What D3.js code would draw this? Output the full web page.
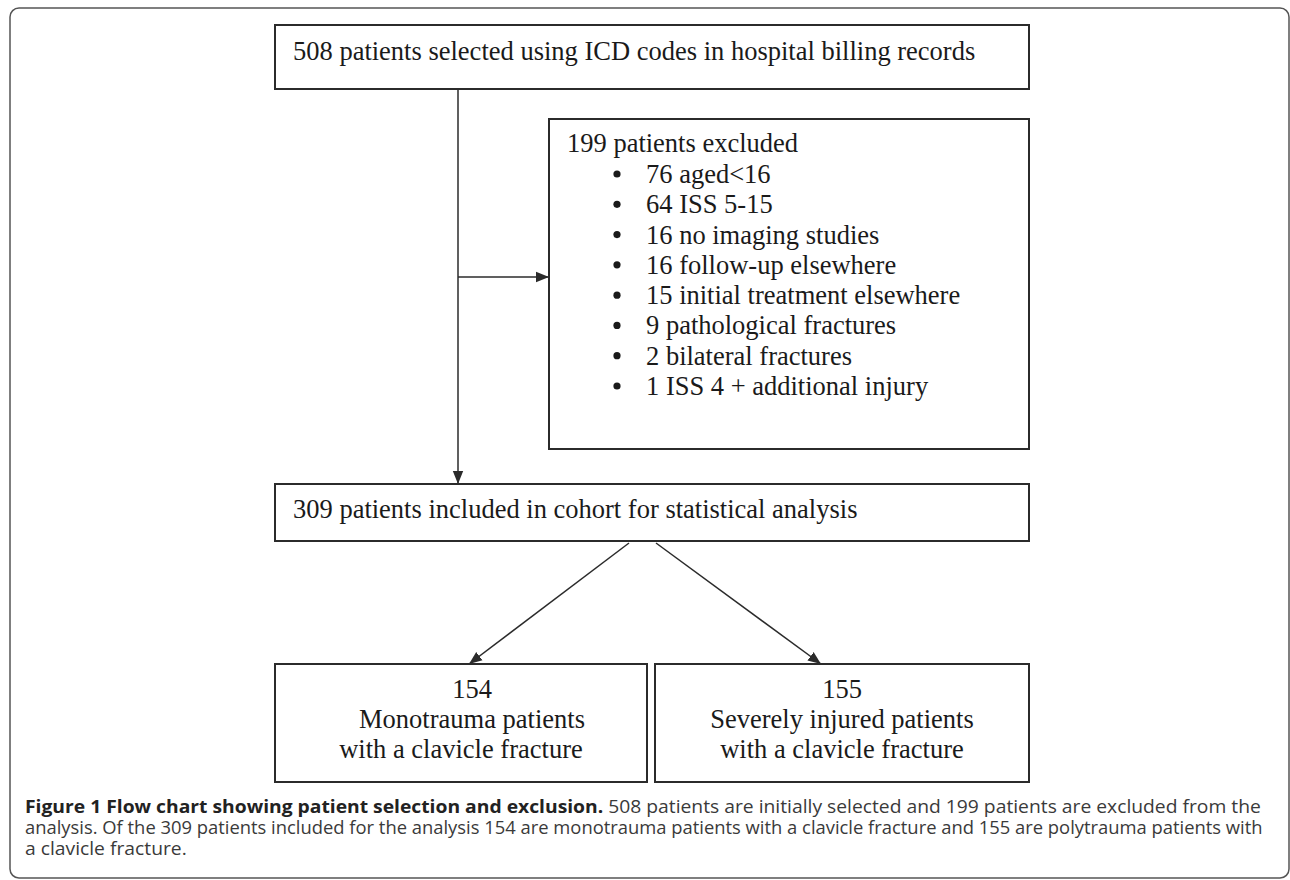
<!DOCTYPE html>
<html>
<head>
    <meta charset="UTF-8">
    <title>Flow chart</title>
    <script src="https://cdn.jsdelivr.net/npm/d3@7"></script>
    <style>
        body { margin: 0; background: #fff; }
    </style>
</head>
<body>
<script>

    var width = 1290,
        height = 880;

    // 流程圖的文字與人數
    var topLabel = "508 patients selected using ICD codes in hospital billing records";
    var excludedLabel = "199 patients excluded";
    var excludedCounts = [76, 64, 16, 16, 15, 9, 2, 1];
    var excludedReasons = ["aged<16", "ISS 5-15", "no imaging studies", "follow-up elsewhere",
        "initial treatment elsewhere", "pathological fractures", "bilateral fractures",
        "ISS 4 + additional injury"];
    var includedLabel = "309 patients included in cohort for statistical analysis";
    var groupCounts = [154, 155];
    var groupLines = [["Monotrauma patients", "with a clavicle fracture"],
        ["Severely injured patients", "with a clavicle fracture"]];
    var captionBold = "Figure 1 Flow chart showing patient selection and exclusion.";
    var captionLines = [
        " 508 patients are initially selected and 199 patients are excluded from the",
        "analysis. Of the 309 patients included for the analysis 154 are monotrauma patients with a clavicle fracture and 155 are polytrauma patients with",
        "a clavicle fracture."
    ];
    // 圖說每行在原圖的右端（最後一行自然寬度）
    var captionRight = [1262, 1263, null];

    var serif = "'Liberation Serif', 'Times New Roman', serif";
    var ink = "#2b2b2b";

    var svg = d3.select("body").append("svg")
        .attr("width", width)
        .attr("height", height);

    var defs = svg.append("defs");
    defs.append("marker")
        .attr("id", "arrow")
        .attr("markerUnits", "userSpaceOnUse")
        .attr("viewBox", "0 -5 10 10")
        .attr("refX", 10)
        .attr("refY", 0)
        .attr("markerWidth", 13)
        .attr("markerHeight", 13)
        .attr("orient", "auto")
        .append("path")
        .attr("d", "M0,-4L10,0L0,4Z")
        .style("fill", ink);

    // 外框
    svg.append("rect")
        .attr("x", 10).attr("y", 8)
        .attr("width", 1279).attr("height", 870)
        .attr("rx", 9).attr("ry", 9)
        .style("fill", "none")
        .style("stroke", "#555")
        .style("stroke-width", 1.5);

    function box(x, y, w, h) {
        svg.append("rect")
            .attr("x", x).attr("y", y)
            .attr("width", w).attr("height", h)
            .style("fill", "none")
            .style("stroke", ink)
            .style("stroke-width", 2);
    }

    function label(txt, x, y, anchor) {
        return svg.append("text")
            .attr("x", x).attr("y", y)
            .attr("text-anchor", anchor || "start")
            .style("font-family", serif)
            .style("font-size", "26.5px")
            .style("fill", "#1a1a1a")
            .text(txt);
    }

    function line(x1, y1, x2, y2, arrow) {
        var l = svg.append("line")
            .attr("x1", x1).attr("y1", y1)
            .attr("x2", x2).attr("y2", y2)
            .style("stroke", ink)
            .style("stroke-width", 1.5);
        if (arrow) l.attr("marker-end", "url(#arrow)");
    }

    // 第一個框
    box(275, 25, 754, 64);
    label(topLabel, 293, 60);

    // 連接線
    line(458, 89, 458, 484, true);
    line(458, 277, 549, 277, true);

    // 排除框
    box(549, 119, 480, 330);
    label(excludedLabel, 567, 152);

    var yItem = d3.scaleLinear()
        .domain([0, excludedCounts.length - 1])
        .range([183, 395]);

    excludedCounts.forEach(function (n, i) {
        svg.append("circle")
            .attr("cx", 617)
            .attr("cy", yItem(i) - 9)
            .attr("r", 3.6)
            .style("fill", "#1a1a1a");
        label(n + " " + excludedReasons[i], 646, yItem(i));
    });

    // 納入框
    box(275, 484, 754, 57);
    label(includedLabel, 293, 518);

    // 分組
    line(629, 543, 469, 664, true);
    line(656, 543, 821, 664, true);

    var groupX = [275, 655],
        groupW = [372, 374],
        groupOffset = [[11, 11, 0], [0, 0, 0]];

    groupCounts.forEach(function (n, i) {
        box(groupX[i], 664, groupW[i], 118);
        var cx = groupX[i] + groupW[i] / 2;
        var rows = [String(n)].concat(groupLines[i]);
        var yRow = d3.scaleLinear().domain([0, 2]).range([698, 758]);
        rows.forEach(function (r, j) {
            label(r, cx + groupOffset[i][j], yRow(j), "middle");
        });
    });

    // 圖說
    var capFont = "'Open Sans', 'Noto Sans', sans-serif";
    var capY = d3.scaleLinear().domain([0, 2]).range([813, 855]);
    var capTexts = [];

    var t0 = svg.append("text")
        .attr("y", capY(0))
        .style("font-family", capFont)
        .style("font-size", "18px")
        .style("fill", "#3a3a3a");
    t0.append("tspan").style("font-weight", "bold").style("fill", "#222").text(captionBold);
    t0.append("tspan").text(captionLines[0]);
    capTexts.push(t0);

    for (var k = 1; k < captionLines.length; k++) {
        capTexts.push(svg.append("text")
            .attr("y", capY(k))
            .style("font-family", capFont)
            .style("font-size", "18px")
            .style("fill", "#3a3a3a")
            .text(captionLines[k]));
    }

    // 每行壓縮到原圖的寬度；沒有寬度的行用第一行的比例
    var baseScale = (captionRight[0] - 25) / t0.node().getComputedTextLength();
    capTexts.forEach(function (t, i) {
        var sx = captionRight[i] ? (captionRight[i] - 25) / t.node().getComputedTextLength() : baseScale;
        t.attr("transform", "translate(25,0) scale(" + sx + ",1)");
    });

</script>
</body>
</html>
